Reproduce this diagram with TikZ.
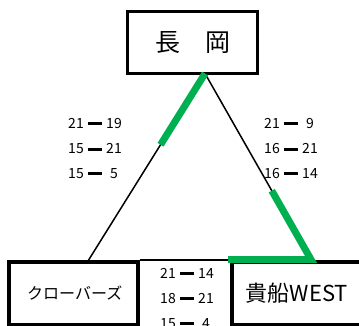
\documentclass[tikz,border=0pt]{standalone}
\usepackage{fontspec}
\setmainfont{Noto Sans CJK JP}
\usetikzlibrary{calc}
\definecolor{wingreen}{RGB}{0,176,80}
\newcommand{\scr}[2]{\makebox[18pt][c]{#1}\hspace{3pt}\rule[3.5pt]{14pt}{3pt}\hspace{3pt}\makebox[18pt][c]{#2}}
\tikzset{
  teambox/.style={draw=black, fill=white, inner sep=0pt},
  tri/.style={draw=black, line width=1.5pt},
  midline/.style={draw=black, line width=2pt},
  win/.style={draw=wingreen, line width=7pt},
  score/.style={inner sep=0pt, anchor=base, font=\fontsize{14}{14}\selectfont},
}
\begin{document}
\begin{tikzpicture}[x=1pt,y=-1pt]
\useasboundingbox (0,0) rectangle (359,326);
\clip (0,0) rectangle (359,326);
\fill[white] (0,0) rectangle (359,326);
% boxes
\node[teambox, line width=3pt, minimum width=130pt, minimum height=62pt] (naga) at (192.5,42.5)
  {\fontsize{25}{25}\selectfont 長　岡};
\node[teambox, line width=3.5pt, minimum width=129pt, minimum height=62.5pt] (clov) at (73.25,293)
  {\fontsize{16}{16}\selectfont\hspace{3pt}クローバーズ};
\node[teambox, line width=3.5pt, minimum width=130.25pt, minimum height=62.5pt] (kibu) at (296.9,293)
  {\fontsize{22}{22}\selectfont 貴船WEST};
% connectors
\coordinate (apex) at (205,73.5);
\coordinate (lfoot) at (88,261);
\coordinate (rfoot) at (311,259.5);
\coordinate (gend) at (228,259.5);
\draw[tri] (apex) -- (lfoot);
\draw[tri] (apex) -- (rfoot);
\draw[midline] (clov.north east) -- (kibu.north west);
\draw[win] (apex) -- ($(apex)!0.38!(lfoot)$);
\draw[win] ($(apex)!0.63!(rfoot)$) -- (rfoot) -- (gend);
% scores
\node[score] (l1) at (95,129) {\scr{21}{19}};
\node[score] (l2) at (95,154) {\scr{15}{21}};
\node[score] (l3) at (95,178.5) {\scr{15}{5}};
\node[score] (r1) at (291,129) {\scr{21}{9}};
\node[score] (r2) at (291,154) {\scr{16}{21}};
\node[score] (r3) at (291,178.5) {\scr{16}{14}};
\node[score] (b1) at (187,278.3) {\scr{21}{14}};
\node[score] (b2) at (187,303.3) {\scr{18}{21}};
\node[score] (b3) at (187,328.3) {\scr{15}{4}};
\end{tikzpicture}
\end{document}
